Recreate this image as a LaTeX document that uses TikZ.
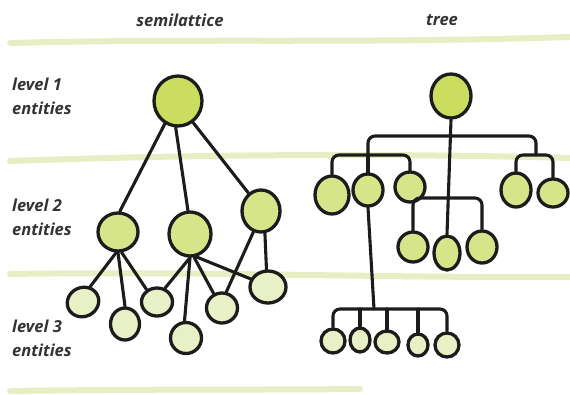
\documentclass[tikz,border=0pt]{standalone}
\usepackage{fontspec}
\setmainfont{Open Sans}
\usetikzlibrary{shapes.geometric}
\definecolor{band}{HTML}{E6EFC3}
\definecolor{gdark}{HTML}{CBDD5F}
\definecolor{gmid}{HTML}{D6E58A}
\definecolor{glight}{HTML}{E8F0C6}
\definecolor{ink}{HTML}{1C1C1C}
\definecolor{txt}{HTML}{333333}
\tikzset{
  ent/.style={ellipse, draw=ink, line width=3.3pt, inner sep=0pt},
  e1/.style={ent, fill=gdark},
  e2/.style={ent, fill=gmid},
  e3/.style={ent, fill=glight},
  sz/.style 2 args={minimum width=#1pt, minimum height=#2pt},
  link/.style={draw=ink, line width=3.1pt, line cap=round},
  branch/.style={link, rounded corners=7pt},
  bandline/.style={draw=band, line width=6pt, line cap=round},
  lbl/.style={font=\fontsize{16.5}{24}\selectfont\bfseries\itshape, text=txt, align=left, anchor=west, inner sep=0pt},
  head/.style={font=\fontsize{16.5}{24}\selectfont\bfseries\itshape, text=txt, inner sep=0pt}
}
\begin{document}
\begin{tikzpicture}[x=1pt,y=-1pt]
\useasboundingbox (0,0) rectangle (570,394);
% bands
\draw[bandline] (10,43) .. controls (200,38) and (350,44) .. (570,37);
\draw[bandline] (10,161) .. controls (150,156) and (350,152) .. (570,158);
\draw[bandline] (10,274) .. controls (200,271) and (380,278) .. (570,277);
\draw[bandline] (10,391) .. controls (150,389) and (250,390) .. (360,389);
% headings and labels
\node[head] (hs) at (180,20) {semilattice};
\node[head] (ht) at (442,20) {tree};
\node[lbl] (lv1) at (12,96) {level 1\\entities};
\node[lbl] (lv2) at (12,217) {level 2\\entities};
\node[lbl] (lv3) at (12,338) {level 3\\entities};
% semilattice nodes
\node[e1, sz={48}{50}] (sr) at (178,101) {};
\node[e2, sz={40}{38}] (sa) at (118,232) {};
\node[e2, sz={42}{44}] (sb) at (190,234) {};
\node[e2, sz={38}{42}] (sc) at (261,211) {};
\node[e3, sz={32}{29}, rotate=25] (la) at (83,302) {};
\node[e3, sz={29}{32}] (lb) at (125,324) {};
\node[e3, sz={31}{28}] (lc) at (157,302) {};
\node[e3, sz={31}{31}] (ld) at (186,338) {};
\node[e3, sz={31}{30}] (le) at (222,308) {};
\node[e3, sz={36}{32}] (lf) at (268,287) {};
% semilattice links
\draw[link] (sr.-120) -- (sa.85);
\draw[link] (sr.-95) -- (sb.95);
\draw[link] (sr.-55) -- (sc.125);
\draw[link] (sa.-95) -- (la.40);
\draw[link] (sa.-90) -- (lb.90);
\draw[link] (sa.-80) -- (lc.130);
\draw[link] (sb.-90) -- (lc.60);
\draw[link] (sb.-90) -- (ld.95);
\draw[link] (sb.-80) -- (le.120);
\draw[link] (sb.-75) -- (lf.155);
\draw[link] (sc.-110) -- (le.75);
\draw[link] (sc.-80) -- (lf.95);
% tree nodes
\node[e1, sz={40}{44}] (tr) at (451,96) {};
\node[e2, sz={34}{38}] (t1) at (332,195) {};
\node[e2, sz={30}{32}] (t2) at (368,190) {};
\node[e2, sz={30}{30}] (t3) at (410,187) {};
\node[e2, sz={30}{34}] (t4) at (516,190) {};
\node[e2, sz={30}{28}] (t5) at (553,193) {};
\node[e2, sz={30}{30}] (t6) at (413,247) {};
\node[e2, sz={26}{34}] (t7) at (447,253) {};
\node[e2, sz={30}{32}] (t8) at (482,247) {};
\node[e3, sz={24}{24}] (u1) at (333,341) {};
\node[e3, sz={20}{24}] (u2) at (360,340) {};
\node[e3, sz={24}{22}] (u3) at (387,342) {};
\node[e3, sz={20}{22}] (u4) at (418,345) {};
\node[e3, sz={24}{24}] (u5) at (447,345) {};
% tree junctions
\coordinate (j0) at (449,136);
\coordinate (j1) at (368,155);
\coordinate (j2) at (536,155);
\coordinate (j3) at (448,198);
\coordinate (j4) at (374,309);
% tree links
\draw[branch] (j1) |- (j0) -| (j2);
\draw[link] (tr.south) -- (t7.north);
\draw[branch] (t1.north) |- (j1) -| (t3.north);
\draw[link] (j1) -- (t2.north);
\draw[branch] (t4.north) |- (j2) -| (t5.north);
\draw[branch] (t6.north) |- (j3) -| (t8.north);
\draw[link] (t2.south) -- (j4);
\draw[branch] (u1.north) |- (j4) -| (u5.north);
\draw[link] (u2.north) -- (u2.north |- j4);
\draw[link] (u3.north) -- (u3.north |- j4);
\draw[link] (u4.north) -- (u4.north |- j4);
\end{tikzpicture}
\end{document}
